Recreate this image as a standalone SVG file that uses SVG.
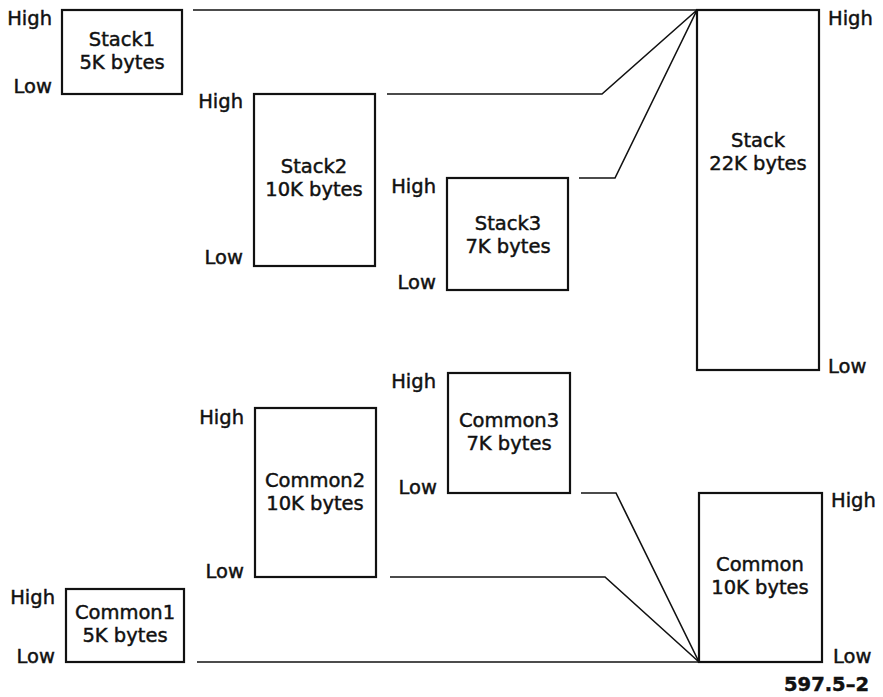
<svg xmlns="http://www.w3.org/2000/svg" width="883" height="697" viewBox="0 0 883 697">
<style>
.box{fill:#fff;stroke:#111;stroke-width:2.2}
.ln{fill:none;stroke:#111;stroke-width:1.6}
text{font-family:"DejaVu Sans",sans-serif;font-size:19.5px;fill:#111;stroke:#111;stroke-width:0.45}
.c{text-anchor:middle}
.l{text-anchor:end}
</style>
<rect width="883" height="697" fill="#fff"/>
<g id="connectors">
<path class="ln" d="M193 10 H697"/>
<path class="ln" d="M387 94 H602 L697 10"/>
<path class="ln" d="M579 178 H615 L697 10"/>
<path class="ln" d="M197 662 H699"/>
<path class="ln" d="M390 577 H605 L699 662"/>
<path class="ln" d="M581 493 H616 L699 662"/>
</g>
<g id="stack1">
<rect class="box" x="62" y="10" width="120" height="84"/>
<text class="c" x="122" y="46">Stack1</text>
<text class="c" x="122" y="69">5K bytes</text>
<text class="l" x="52" y="25">High</text>
<text class="l" x="52" y="93">Low</text>
</g>
<g id="stack2">
<rect class="box" x="254" y="94" width="121" height="172"/>
<text class="c" x="314" y="173">Stack2</text>
<text class="c" x="314" y="196">10K bytes</text>
<text class="l" x="243" y="108">High</text>
<text class="l" x="243" y="264">Low</text>
</g>
<g id="stack3">
<rect class="box" x="447" y="178" width="121" height="112"/>
<text class="c" x="508" y="230">Stack3</text>
<text class="c" x="508" y="253">7K bytes</text>
<text class="l" x="436" y="193">High</text>
<text class="l" x="436" y="289">Low</text>
</g>
<g id="stack">
<rect class="box" x="697" y="10" width="122" height="360"/>
<text class="c" x="758" y="147">Stack</text>
<text class="c" x="758" y="170">22K bytes</text>
<text x="828" y="25">High</text>
<text x="828" y="373">Low</text>
</g>
<g id="common3">
<rect class="box" x="448" y="373" width="122" height="120"/>
<text class="c" x="509" y="427">Common3</text>
<text class="c" x="509" y="450">7K bytes</text>
<text class="l" x="436" y="388">High</text>
<text class="l" x="437" y="494">Low</text>
</g>
<g id="common2">
<rect class="box" x="255" y="408" width="121" height="169"/>
<text class="c" x="315" y="487">Common2</text>
<text class="c" x="315" y="510">10K bytes</text>
<text class="l" x="244" y="424">High</text>
<text class="l" x="244" y="578">Low</text>
</g>
<g id="common1">
<rect class="box" x="66" y="589" width="118" height="73"/>
<text class="c" x="125" y="619">Common1</text>
<text class="c" x="125" y="642">5K bytes</text>
<text class="l" x="55" y="604">High</text>
<text class="l" x="55" y="663">Low</text>
</g>
<g id="common">
<rect class="box" x="699" y="493" width="123" height="169"/>
<text class="c" x="760" y="571">Common</text>
<text class="c" x="760" y="594">10K bytes</text>
<text x="831" y="507">High</text>
<text x="833" y="663">Low</text>
</g>
<text x="869" y="691" text-anchor="end" font-weight="bold" font-size="15" stroke-width="0">597.5–2</text>
</svg>
